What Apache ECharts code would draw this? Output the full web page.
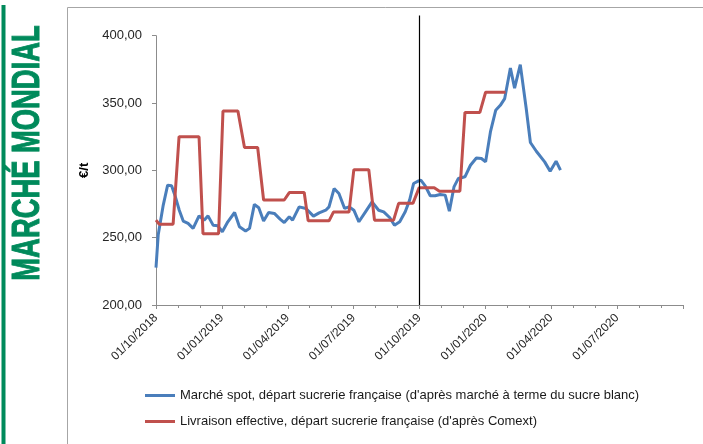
<!DOCTYPE html>
<html>
<head>
<meta charset="utf-8">
<script src="https://cdn.jsdelivr.net/npm/echarts@6/dist/echarts.min.js"></script>
<style>
  html, body { margin: 0; padding: 0; background: #fff; }
  #chart { width: 703px; height: 444px; }
</style>
</head>
<body>
<div id="chart"></div>
<script>
// x = months since 01/10/2018
var spotMonths = [0, 0.1, 0.33, 0.53, 0.71, 0.86, 1.06, 1.24, 1.46, 1.69, 1.96, 2.19, 2.37, 2.6, 2.82,
  3.02, 3.27, 3.58, 3.8, 4.08, 4.26, 4.48, 4.68, 4.9, 5.13, 5.39, 5.65, 5.84, 6.07, 6.22, 6.52, 6.83,
  7.17, 7.43, 7.73, 7.88, 8.11, 8.33, 8.59, 8.79, 9.01, 9.24, 9.54, 9.84, 10.14, 10.37, 10.64, 10.86,
  11.1, 11.35, 11.55, 11.73, 11.96, 12.06, 12.26, 12.49, 12.71, 12.94, 13.17, 13.36, 13.57, 13.77,
  14.07, 14.32, 14.59, 14.82, 15.01, 15.23, 15.47, 15.68, 15.88, 16.14, 16.33, 16.59, 16.86, 17.05,
  17.32, 17.7, 17.95, 18.22, 18.42];
var spotValues = [227.7, 251.9, 274.2, 289, 288.5, 281.6, 270.4, 262.3, 260.6, 256.9, 266.2, 263, 266.2, 259.3, 258.8,
  254.4, 261.8, 268.7, 258.1, 254.9, 256.9, 274.7, 272.2, 262.3, 268.7, 268, 263.8, 261.2, 265.5, 263, 272.9, 271.7,
  266, 268.4, 270.4, 272.9, 286.5, 282.8, 271.7, 272.9, 270.4, 261.8, 269.2, 276.6, 270.4, 269.2, 265, 259.3,
  261.8, 269.2, 277.9, 290.2, 292.2, 292.7, 288.5, 281.1, 281.1, 282.1, 281.6, 269.7, 287.7, 294,
  295.2, 303.8, 309.2, 308.8, 306.3, 328.5, 344.6, 348.3, 353.3, 376, 361.1, 378.5, 345.9, 320.7,
  314.2, 306.3, 299.4, 306.8, 300.1];

var livMonths = [0, 0.15, 0.78, 1.05, 1.96, 2.14, 2.85, 3.05, 3.73, 4.03, 4.63, 4.9, 5.84, 6.07, 6.75,
  6.93, 7.88, 8.08, 8.79, 9.01, 9.69, 9.95, 10.82, 11.05, 11.7, 11.98, 12.67, 12.91, 13.84, 14.07,
  14.75, 15.01, 15.92];
var livValues = [263, 260, 260, 325, 325, 253, 253, 344, 344, 317, 317, 278, 278, 283.5, 283.5,
  262.5, 262.5, 269, 269, 300.5, 300.5, 263, 263, 275.5, 275.5, 287, 287, 284.5, 284.5, 343,
  343, 358, 358];

var seriesNames = ["Marché spot, départ sucrerie française (d'après marché à terme du sucre blanc)",
  "Livraison effective, départ sucrerie française (d'après Comext)"];

// trait vertical au 01/10/2019
var cutMonth = [12, 12];
var cutValues = [200, 415];

var fontFam = "'Liberation Sans', Arial, sans-serif";

function zip(xs, ys) {
  return xs.map(function (x, i) { return [x, ys[i]]; });
}

function monthLabel(m) {
  if (m >= 24) return '';
  var mm = 9 + m;
  var yy = 2018 + Math.floor(mm / 12);
  var mo = (mm % 12) + 1;
  return '01/' + (mo < 10 ? '0' + mo : mo) + '/' + yy;
}

var myChart = echarts.init(document.getElementById('chart'));
var option = {
  animation: false,
  textStyle: { fontFamily: fontFam },
  graphic: [
    { type: 'rect', shape: { x: 1.5, y: 5, width: 4, height: 440 }, style: { fill: '#008a5b' }, silent: true },
    { type: 'rect', shape: { x: 67.5, y: 7.5, width: 700, height: 500 },
      style: { fill: 'none', stroke: '#a6a6a6', lineWidth: 1 }, silent: true },
    { type: 'text', x: 28.5, y: 153, rotation: Math.PI / 2, scaleX: 0.72,
      style: { text: 'MARCHÉ MONDIAL', fill: '#008a5b', font: 'bold 38px ' + fontFam,
        align: 'center', verticalAlign: 'middle', stroke: '#008a5b', lineWidth: 1 }, silent: true }
  ],
  grid: { left: 156, right: 20, top: 35.7, bottom: 139 },
  legend: {
    orient: 'vertical', left: 140, top: 384,
    itemWidth: 30, itemHeight: 14, itemGap: 13,
    icon: 'path://M0,0 L30,0 L30,3 L0,3 Z',
    data: seriesNames,
    textStyle: { fontSize: 13, color: '#1a1a1a', fontFamily: fontFam }
  },
  xAxis: {
    type: 'value', min: 0, max: 24, interval: 3,
    splitLine: { show: false },
    axisLine: { lineStyle: { color: '#8c8c8c' } },
    axisTick: { length: 4, lineStyle: { color: '#8c8c8c' } },
    minorTick: { show: true, splitNumber: 3, length: 3, lineStyle: { color: '#8c8c8c' } },
    axisLabel: { rotate: 45, margin: 11, fontSize: 12, color: '#262626', formatter: monthLabel }
  },
  yAxis: {
    type: 'value', min: 200, max: 400, interval: 50,
    name: '€/t', nameLocation: 'middle', nameRotate: 90, nameGap: 64,
    nameTextStyle: { fontWeight: 'bold', fontSize: 13, color: '#000' },
    splitLine: { show: false },
    axisLine: { show: true, lineStyle: { color: '#8c8c8c' } },
    axisTick: { show: true, length: 4, lineStyle: { color: '#8c8c8c' } },
    axisLabel: { margin: 14, fontSize: 13, color: '#262626',
      formatter: function (v) { return v.toFixed(2).replace('.', ','); } }
  },
  series: [
    {
      name: seriesNames[0], type: 'line', symbol: 'none',
      color: '#4a7ebb', lineStyle: { width: 3, color: '#4a7ebb' },
      data: zip(spotMonths, spotValues)
    },
    {
      name: seriesNames[1], type: 'line', symbol: 'none',
      color: '#c0504d', lineStyle: { width: 3, color: '#c0504d' },
      data: zip(livMonths, livValues)
    },
    {
      name: 'cut', type: 'line', symbol: 'none', clip: false, silent: true, z: 5,
      lineStyle: { width: 1.2, color: '#000' },
      data: zip(cutMonth, cutValues)
    }
  ]
};
myChart.setOption(option);
window.onresize = myChart.resize;
</script>
</body>
</html>
